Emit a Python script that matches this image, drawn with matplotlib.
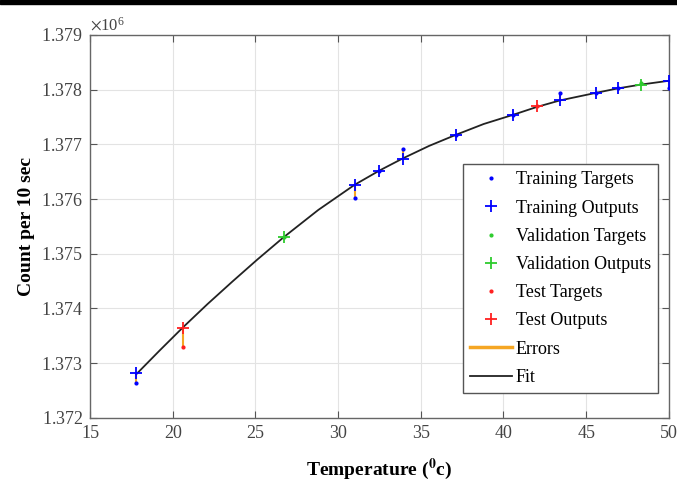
import numpy as np
import matplotlib
matplotlib.use("Agg")
import matplotlib.pyplot as plt
from matplotlib.lines import Line2D
from matplotlib.patches import Rectangle
from matplotlib.ticker import ScalarFormatter

plt.rcParams['font.family'] = ['Liberation Serif', 'DejaVu Serif']
plt.rcParams['mathtext.fontset'] = 'stix'

# data (counts per 10 sec)
train_temp = [17.8, 31.0, 32.5, 33.9, 37.1, 40.6, 43.4, 45.6, 46.9, 50.0]
train_out = [1.37282e6, 1.37626e6, 1.37652e6, 1.37673e6, 1.37717e6,
             1.37754e6, 1.37781e6, 1.37794e6, 1.37803e6, 1.37816e6]
train_tgt = [1.37264e6, 1.37602e6, 1.37652e6, 1.37692e6, 1.37717e6,
             1.37754e6, 1.37794e6, 1.37794e6, 1.37803e6, 1.37803e6]

val_temp = [26.7, 48.3]
val_out = [1.37531e6, 1.37809e6]
val_tgt = [1.37531e6, 1.37812e6]

test_temp = [20.6, 42.0]
test_out = [1.37365e6, 1.37769e6]
test_tgt = [1.37330e6, 1.37769e6]

fit_temp = [17.8, 19.2, 20.6, 22.1, 23.6, 25.1, 26.7, 28.8, 31.0, 32.5, 33.9,
            35.5, 37.1, 38.8, 40.6, 42.0, 43.4, 45.6, 46.9, 48.3, 50.0]
fit_count = [1.37280e6, 1.37323e6, 1.37365e6, 1.37408e6, 1.37449e6, 1.37489e6,
             1.37530e6, 1.37580e6, 1.37626e6, 1.37652e6, 1.37674e6, 1.37697e6,
             1.37717e6, 1.37737e6, 1.37754e6, 1.37768e6, 1.37780e6, 1.37794e6,
             1.37802e6, 1.37809e6, 1.37816e6]

blue = '#0000ff'
green = '#2ecc2e'
red = '#ff2020'
err_col = '#f5a623'

fig = plt.figure(figsize=(6.77, 4.90), dpi=100)
ax = fig.add_axes([0.133, 0.147, 0.855, 0.782])

# black bar at top of the picture
fig.patches.append(Rectangle((0, 1 - 4 / 490), 1, 4 / 490, transform=fig.transFigure,
                             color='black', zorder=10))

# errors
for temps, tg, out in [(train_temp, train_tgt, train_out),
                       (val_temp, val_tgt, val_out),
                       (test_temp, test_tgt, test_out)]:
    for t, a, b in zip(temps, tg, out):
        ax.plot([t, t], [a, b], color=err_col, lw=1.5, zorder=2)

ax.plot(fit_temp, fit_count, color='#222222', lw=1.3, zorder=3)

ax.plot(train_temp, train_tgt, '.', color=blue, ms=4, zorder=4)
ax.plot(train_temp, train_out, '+', color=blue, ms=9, mew=1.3, zorder=5)
ax.plot(val_temp, val_tgt, '.', color=green, ms=4, zorder=4)
ax.plot(val_temp, val_out, '+', color=green, ms=9, mew=1.3, zorder=5)
ax.plot(test_temp, test_tgt, '.', color=red, ms=4, zorder=4)
ax.plot(test_temp, test_out, '+', color=red, ms=9, mew=1.3, zorder=5)

ax.set_xlim(15, 50)
ax.set_ylim(1.372e6, 1.379e6)
ax.set_xticks(np.arange(15, 51, 5))
ax.set_yticks(np.arange(1.372e6, 1.3791e6, 1000))

fmt = ScalarFormatter(useMathText=True)
fmt.set_powerlimits((6, 6))
fmt.set_useOffset(False)
ax.yaxis.set_major_formatter(fmt)
ax.yaxis.get_offset_text().set_fontsize(12)
ax.yaxis.get_offset_text().set_color('#555555')

ax.grid(True, color='#e3e3e3', lw=0.8)
ax.set_axisbelow(True)
ax.tick_params(direction='in', top=True, right=True, length=5, width=0.8,
               labelsize=13, colors='#555555', labelcolor='#444444', pad=5)
for s in ax.spines.values():
    s.set_color('#666666')
    s.set_linewidth(1.0)

ax.set_xlabel(r'Temperature ($\mathbf{^0}$c)', fontsize=14, fontweight='bold', labelpad=11)
ax.set_ylabel('Count per 10 sec', fontsize=14, fontweight='bold', labelpad=4)

handles = [
    Line2D([], [], ls='none', marker='.', color=blue, ms=4),
    Line2D([], [], ls='none', marker='+', color=blue, ms=9, mew=1.3),
    Line2D([], [], ls='none', marker='.', color=green, ms=4),
    Line2D([], [], ls='none', marker='+', color=green, ms=9, mew=1.3),
    Line2D([], [], ls='none', marker='.', color=red, ms=4),
    Line2D([], [], ls='none', marker='+', color=red, ms=9, mew=1.3),
    Line2D([], [], color=err_col, lw=2.5),
    Line2D([], [], color='#222222', lw=1.3),
]
labels = ['Training Targets', 'Training Outputs', 'Validation Targets',
          'Validation Outputs', 'Test Targets', 'Test Outputs', 'Errors', 'Fit']
leg = ax.legend(handles, labels, loc='lower right', bbox_to_anchor=(0.981, 0.065),
                borderaxespad=0, fontsize=13, fancybox=False, framealpha=1,
                edgecolor='#555555', handlelength=2.3, handletextpad=0.2,
                labelspacing=0.62, borderpad=0.4)
leg.get_frame().set_linewidth(1.0)

fig.savefig('out.png', dpi=100)
